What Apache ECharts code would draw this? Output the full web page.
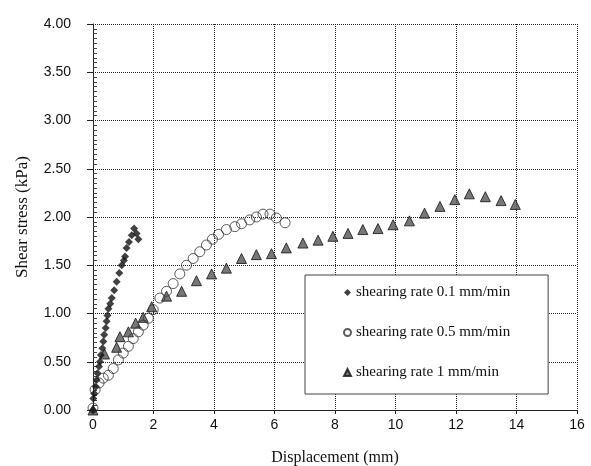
<!DOCTYPE html>
<html>
<head>
<meta charset="utf-8">
<script src="https://cdn.jsdelivr.net/npm/echarts@6/dist/echarts.min.js"></script>
<style>
  html, body { margin: 0; padding: 0; background: #fff; }
  #main { width: 591px; height: 466px; }
</style>
</head>
<body>
<div id="main"></div>
<script>
// displacement (mm), shear stress (kPa)
var rate01 = [
    [0, 0], [0.01, 0.12], [0.04, 0.17], [0.09, 0.24], [0.12, 0.31], [0.15, 0.38],
    [0.20, 0.45], [0.23, 0.50], [0.26, 0.57], [0.31, 0.64], [0.34, 0.71], [0.37, 0.78],
    [0.42, 0.85], [0.45, 0.92], [0.48, 0.98], [0.51, 1.05], [0.57, 1.10], [0.62, 1.16],
    [0.70, 1.24], [0.78, 1.33], [0.87, 1.42], [0.95, 1.50], [1.02, 1.55], [1.06, 1.59],
    [1.11, 1.68], [1.19, 1.74], [1.28, 1.81], [1.36, 1.88], [1.44, 1.83], [1.50, 1.77]
];
var rate05 = [
    [0, 0.02], [0.07, 0.21], [0.20, 0.28], [0.34, 0.33], [0.51, 0.36], [0.67, 0.43],
    [0.84, 0.52], [1.00, 0.59], [1.17, 0.66], [1.33, 0.74], [1.50, 0.81], [1.66, 0.88],
    [1.83, 0.95], [1.99, 1.04], [2.21, 1.16], [2.43, 1.23], [2.65, 1.31], [2.87, 1.41],
    [3.09, 1.50], [3.31, 1.57], [3.53, 1.64], [3.75, 1.71], [3.95, 1.77], [4.15, 1.82],
    [4.41, 1.87], [4.69, 1.90], [4.91, 1.93], [5.18, 1.97], [5.40, 2.00], [5.62, 2.03],
    [5.85, 2.03], [6.06, 1.99], [6.35, 1.94]
];
var rate1 = [
    [0, 0], [0.38, 0.58], [0.78, 0.65], [0.89, 0.76], [1.17, 0.81], [1.41, 0.90],
    [1.66, 0.96], [1.94, 1.07], [2.43, 1.18], [2.93, 1.23], [3.42, 1.34], [3.92, 1.41],
    [4.41, 1.47], [4.91, 1.57], [5.40, 1.61], [5.90, 1.62], [6.39, 1.68], [6.94, 1.73],
    [7.44, 1.76], [7.93, 1.80], [8.43, 1.83], [8.92, 1.87], [9.42, 1.88], [9.92, 1.92],
    [10.46, 1.96], [10.96, 2.04], [11.47, 2.11], [11.96, 2.18], [12.44, 2.24], [12.97, 2.21],
    [13.49, 2.17], [13.96, 2.13]
];
var seriesNames = ['shearing rate 0.1 mm/min', 'shearing rate 0.5 mm/min', 'shearing rate 1 mm/min'];

var myChart = echarts.init(document.getElementById('main'));
var option = {
    animation: false,
    backgroundColor: '#fff',
    grid: { left: 93, right: 14, top: 24, bottom: 56, outerBoundsMode: 'none' },
    legend: {
        orient: 'vertical',
        left: 305,
        top: 275,
        padding: [10, 38, 14, 38],
        itemGap: 25,
        itemWidth: 7,
        itemHeight: 7,
        backgroundColor: '#fff',
        borderColor: '#444',
        borderWidth: 1,
        textStyle: { fontFamily: 'Liberation Serif', fontSize: 15, color: '#111' },
        data: seriesNames
    },
    xAxis: {
        type: 'value',
        min: 0, max: 16, interval: 2,
        name: 'Displacement (mm)',
        nameLocation: 'middle',
        nameGap: 40,
        nameTextStyle: { fontFamily: 'Liberation Serif', fontSize: 16, color: '#111' },
        axisLine: { lineStyle: { color: '#222' } },
        axisTick: { show: true, length: 4, lineStyle: { color: '#222' } },
        axisLabel: { fontFamily: 'Liberation Sans', fontSize: 14, color: '#111', margin: 8 },
        splitLine: { show: true, lineStyle: { color: '#222', type: 'dotted', width: 1 } }
    },
    yAxis: {
        type: 'value',
        min: 0, max: 4, interval: 0.5,
        name: 'Shear stress (kPa)',
        nameLocation: 'middle',
        nameGap: 62,
        nameTextStyle: { fontFamily: 'Liberation Serif', fontSize: 17, color: '#111' },
        axisLine: { show: true, lineStyle: { color: '#222' } },
        axisTick: { show: true, length: 6, lineStyle: { color: '#222' } },
        minorTick: { show: true, splitNumber: 10, length: -4, lineStyle: { color: '#444' } },
        axisLabel: {
            fontFamily: 'Liberation Sans', fontSize: 14, color: '#111', margin: 22,
            formatter: function (v) { return v.toFixed(2); }
        },
        splitLine: { show: true, lineStyle: { color: '#222', type: 'dotted', width: 1 } }
    },
    series: [
        {
            name: seriesNames[2],
            type: 'scatter',
            symbol: 'triangle',
            symbolSize: 10,
            itemStyle: { color: '#555', borderColor: '#111', borderWidth: 1 },
            data: rate1
        },
        {
            name: seriesNames[1],
            type: 'scatter',
            symbol: 'circle',
            symbolSize: 10,
            itemStyle: { color: 'rgba(255,255,255,0)', borderColor: '#333', borderWidth: 1 },
            data: rate05
        },
        {
            name: seriesNames[0],
            type: 'scatter',
            symbol: 'diamond',
            symbolSize: 8,
            itemStyle: { color: '#111' },
            data: rate01
        }
    ]
};

myChart.setOption(option);
</script>
</body>
</html>
